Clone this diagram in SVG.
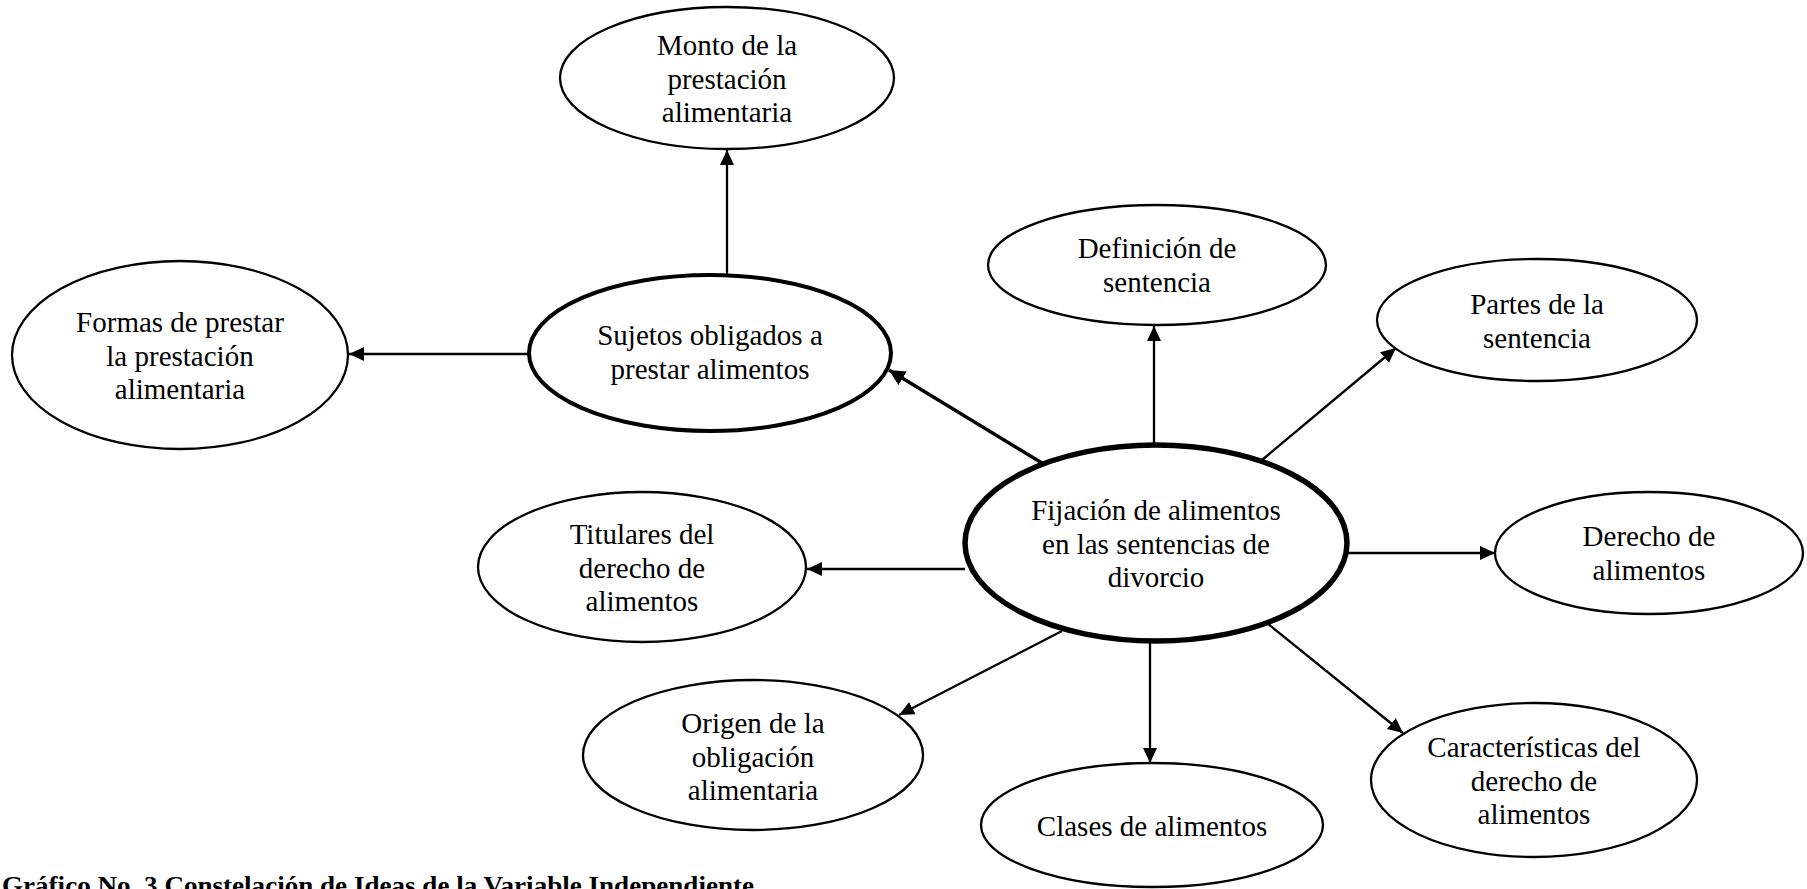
<svg xmlns="http://www.w3.org/2000/svg" width="1807" height="889" viewBox="0 0 1807 889">
<style>
  .n { fill: #fff; stroke: #000; stroke-width: 2.3; }
  .n2 { fill: #fff; stroke: #000; stroke-width: 4; }
  .n3 { fill: #fff; stroke: #000; stroke-width: 5.5; }
  .t { font-family: "Liberation Serif", "Times New Roman", serif; font-size: 29px; fill: #000; text-anchor: middle; }
  .c { stroke: #000; stroke-width: 2.3; fill: none; marker-end: url(#ah); }
  .c2 { stroke: #000; stroke-width: 3.4; fill: none; marker-end: url(#ah2); }
  .cap { font-family: "Liberation Serif", "Times New Roman", serif; font-size: 26px; font-weight: bold; fill: #000; }
</style>
<defs>
  <marker id="ah" markerUnits="userSpaceOnUse" markerWidth="16" markerHeight="16" refX="15" refY="7" orient="auto">
    <path d="M0,0 L15,7 L0,14 z" fill="#000"/>
  </marker>
  <marker id="ah2" markerUnits="userSpaceOnUse" markerWidth="18" markerHeight="18" refX="16" refY="8" orient="auto">
    <path d="M0,0 L16,8 L0,16 z" fill="#000"/>
  </marker>
</defs>
<rect width="1807" height="889" fill="#fff"/>
<g id="connectors">
  <line class="c" x1="727" y1="277" x2="727" y2="150"/>
  <line class="c" x1="528" y1="354" x2="349" y2="354"/>
  <line class="c2" x1="1042" y1="463" x2="889" y2="370"/>
  <line class="c" x1="1154" y1="445" x2="1154" y2="326"/>
  <line class="c" x1="1262" y1="460" x2="1396" y2="348"/>
  <line class="c" x1="1345" y1="553" x2="1495" y2="553"/>
  <line class="c" x1="965" y1="569" x2="807" y2="569"/>
  <line class="c" x1="1062" y1="631" x2="899" y2="715"/>
  <line class="c" x1="1150" y1="642" x2="1150" y2="763"/>
  <line class="c" x1="1267" y1="623" x2="1403" y2="733"/>
</g>
<g id="monto">
  <ellipse class="n" cx="727" cy="78" rx="167" ry="71"/>
  <text class="t"><tspan x="727" y="55">Monto de la</tspan><tspan x="727" y="89">prestación</tspan><tspan x="727" y="122">alimentaria</tspan></text>
</g>
<g id="formas">
  <ellipse class="n" cx="180" cy="355" rx="168" ry="94"/>
  <text class="t"><tspan x="180" y="332">Formas de prestar</tspan><tspan x="180" y="366">la prestación</tspan><tspan x="180" y="399">alimentaria</tspan></text>
</g>
<g id="sujetos">
  <ellipse class="n2" cx="710" cy="353" rx="181" ry="78"/>
  <text class="t"><tspan x="710" y="345">Sujetos obligados a</tspan><tspan x="710" y="379">prestar alimentos</tspan></text>
</g>
<g id="definicion">
  <ellipse class="n" cx="1157" cy="265" rx="169" ry="60"/>
  <text class="t"><tspan x="1157" y="258">Definición de</tspan><tspan x="1157" y="292">sentencia</tspan></text>
</g>
<g id="partes">
  <ellipse class="n" cx="1537" cy="320" rx="160" ry="61"/>
  <text class="t"><tspan x="1537" y="314">Partes de la</tspan><tspan x="1537" y="348">sentencia</tspan></text>
</g>
<g id="central">
  <ellipse class="n3" cx="1156" cy="543" rx="191" ry="98"/>
  <text class="t"><tspan x="1156" y="520">Fijación de alimentos</tspan><tspan x="1156" y="554">en las sentencias de</tspan><tspan x="1156" y="587">divorcio</tspan></text>
</g>
<g id="titulares">
  <ellipse class="n" cx="642" cy="567" rx="164" ry="75"/>
  <text class="t"><tspan x="642" y="544">Titulares del</tspan><tspan x="642" y="578">derecho de</tspan><tspan x="642" y="611">alimentos</tspan></text>
</g>
<g id="derecho">
  <ellipse class="n" cx="1649" cy="553" rx="154" ry="61"/>
  <text class="t"><tspan x="1649" y="546">Derecho de</tspan><tspan x="1649" y="580">alimentos</tspan></text>
</g>
<g id="origen">
  <ellipse class="n" cx="753" cy="755" rx="170" ry="75"/>
  <text class="t"><tspan x="753" y="733">Origen de la</tspan><tspan x="753" y="767">obligación</tspan><tspan x="753" y="800">alimentaria</tspan></text>
</g>
<g id="clases">
  <ellipse class="n" cx="1152" cy="825" rx="171" ry="62"/>
  <text class="t"><tspan x="1152" y="836">Clases de alimentos</tspan></text>
</g>
<g id="caracteristicas">
  <ellipse class="n" cx="1534" cy="780" rx="163" ry="77"/>
  <text class="t"><tspan x="1534" y="757">Características del</tspan><tspan x="1534" y="791">derecho de</tspan><tspan x="1534" y="824">alimentos</tspan></text>
</g>
<text class="cap" x="2" y="894" textLength="752" lengthAdjust="spacingAndGlyphs">Gráfico No. 3 Constelación de Ideas de la Variable Independiente</text>
</svg>
